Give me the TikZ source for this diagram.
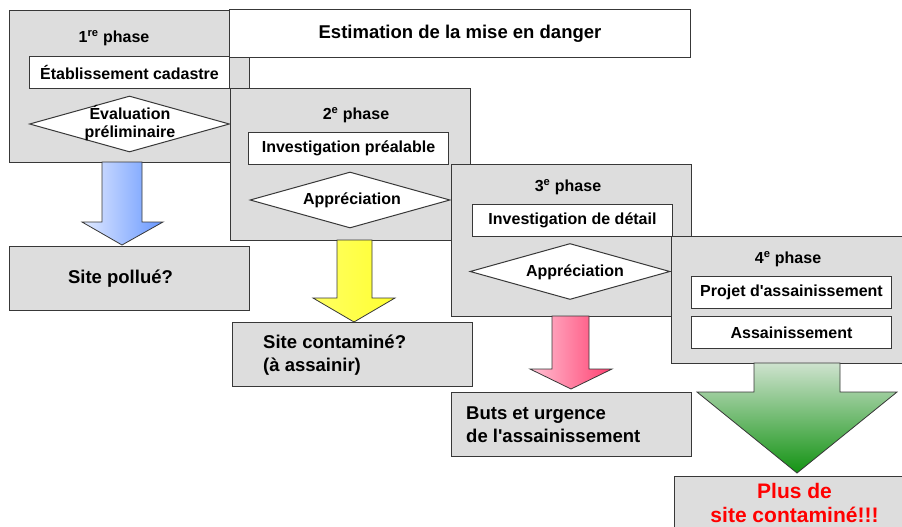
\documentclass[tikz,border=0pt]{standalone}
\usepackage{fontspec}
\setmainfont{Liberation Sans}
\usetikzlibrary{shapes.geometric}

\definecolor{boxgray}{HTML}{DDDDDD}
\definecolor{edgegray}{HTML}{383838}
\definecolor{bluelight}{HTML}{E2EAFF}
\definecolor{bluedark}{HTML}{6797FF}
\definecolor{yellowlight}{HTML}{FFFFD8}
\definecolor{yellowdark}{HTML}{FFFF30}
\definecolor{pinklight}{HTML}{FFC2D4}
\definecolor{pinkdark}{HTML}{FF3F70}
\definecolor{greenlight}{HTML}{CEE2CE}
\definecolor{greendark}{HTML}{139313}
\definecolor{alarmred}{HTML}{FF0000}

\begin{document}
\begin{tikzpicture}[x = 1pt, y = -1pt,
	phasebox/.style = {draw = edgegray, fill = boxgray, line width = 1.2pt, anchor = north west, minimum width = 240, minimum height = 152, inner sep = 0},
	stepbox/.style = {draw = edgegray, fill = white, line width = 1pt, anchor = north west, minimum width = 200, minimum height = 32, inner sep = 0, font = \fontsize{16}{18}\selectfont\bfseries},
	choice/.style = {diamond, draw = edgegray, fill = white, line width = 1pt, minimum width = 200, minimum height = 56, inner sep = 0},
	phasetext/.style = {inner sep = 0, font = \fontsize{16}{18}\selectfont\bfseries},
	resultbox/.style = {draw = edgegray, fill = boxgray, line width = 1.2pt, anchor = north west, minimum width = 240, minimum height = 64, inner sep = 0},
	resulttext/.style = {inner sep = 0, align = left, font = \fontsize{18.5}{23}\selectfont\bfseries},
	blockarrow/.style = {draw = edgegray, line width = 0.8pt, line join = miter}]

	\useasboundingbox (0, 0) rectangle (902, 527);

	% 1st phase

	\node [phasebox] (phase1) at (9, 10) {};

	% Title

	\node [draw = edgegray, fill = white, line width = 1pt, anchor = north west, minimum width = 461, minimum height = 48, inner sep = 0, font = \fontsize{18.5}{22}\selectfont\bfseries] (title) at (229, 9) {Estimation de la mise en danger};

	\node [phasetext] (phase1-label) at (114, 38) {1\textsuperscript{re} phase};
	\node [stepbox] (cadastre) at (29, 56) {Établissement cadastre};
	\node [choice] (evaluation) at (129.5, 124) {};
	\node [phasetext, align = center, font = \fontsize{16}{18}\selectfont\bfseries] (evaluation-text) at (130, 123) {Évaluation\\préliminaire};

	% 2nd phase

	\node [phasebox] (phase2) at (230, 87.5) {};
	\node [phasetext] (phase2-label) at (356, 115) {2\textsuperscript{e} phase};
	\node [stepbox] (prealable) at (248, 132) {Investigation préalable};
	\node [choice] (appreciation2) at (350, 200) {};
	\node [phasetext] (appreciation2-text) at (352, 200.5) {Appréciation};

	% 3rd phase

	\node [phasebox] (phase3) at (451, 164) {};
	\node [phasetext] (phase3-label) at (568, 187) {3\textsuperscript{e} phase};
	\node [stepbox] (detail) at (472, 203.5) {Investigation de détail};
	\node [choice] (appreciation3) at (570, 271.5) {};
	\node [phasetext] (appreciation3-text) at (575, 272.5) {Appréciation};

	% 4th phase

	\node [phasebox, minimum height = 127] (phase4) at (671, 236) {};
	\node [phasetext] (phase4-label) at (788, 259) {4\textsuperscript{e} phase};
	\node [stepbox] (projet) at (691, 276) {Projet d\textquotesingle assainissement};
	\node [stepbox] (assainissement) at (691, 316) {Assainissement};

	% Results

	\node [resultbox] (pollue) at (9, 246) {};
	\node [resulttext] (pollue-text) at (120.5, 279) {Site pollué?};

	\node [resultbox] (contamine) at (232, 322) {};
	\node [resulttext, anchor = west] (contamine-text) at (263, 355.5) {Site contaminé?\\(à assainir)};

	\node [resultbox] (buts) at (451, 392) {};
	\node [resulttext, anchor = west] (buts-text) at (466, 424.5) {Buts et urgence\\de l\textquotesingle assainissement};

	\node [resultbox] (plus) at (674, 476) {};
	\node [resulttext, align = center, text = alarmred, font = \fontsize{21}{24}\selectfont\bfseries] (plus-text) at (794.5, 503) {Plus de\\site contaminé!!!};

	% Arrows

	\draw [blockarrow, left color = bluelight, right color = bluedark]
		(102, 162) -- (102, 222) -- (82, 222) -- (122, 245) -- (163, 222) -- (142, 222) -- (142, 162) -- cycle;

	\draw [blockarrow, left color = yellowdark!70!yellowlight, middle color = yellowlight, right color = yellowdark]
		(337, 240) -- (337, 298) -- (313, 298) -- (354, 322) -- (395, 298) -- (372, 298) -- (372, 240) -- cycle;

	\draw [blockarrow, left color = pinklight, right color = pinkdark]
		(552, 316) -- (552, 369) -- (530, 369) -- (571, 389) -- (612, 369) -- (589, 369) -- (589, 316) -- cycle;

	\draw [blockarrow, top color = greenlight, bottom color = greendark]
		(754, 363) -- (754, 392) -- (697, 392) -- (797, 473) -- (897, 392) -- (840, 392) -- (840, 363) -- cycle;

\end{tikzpicture}
\end{document}
